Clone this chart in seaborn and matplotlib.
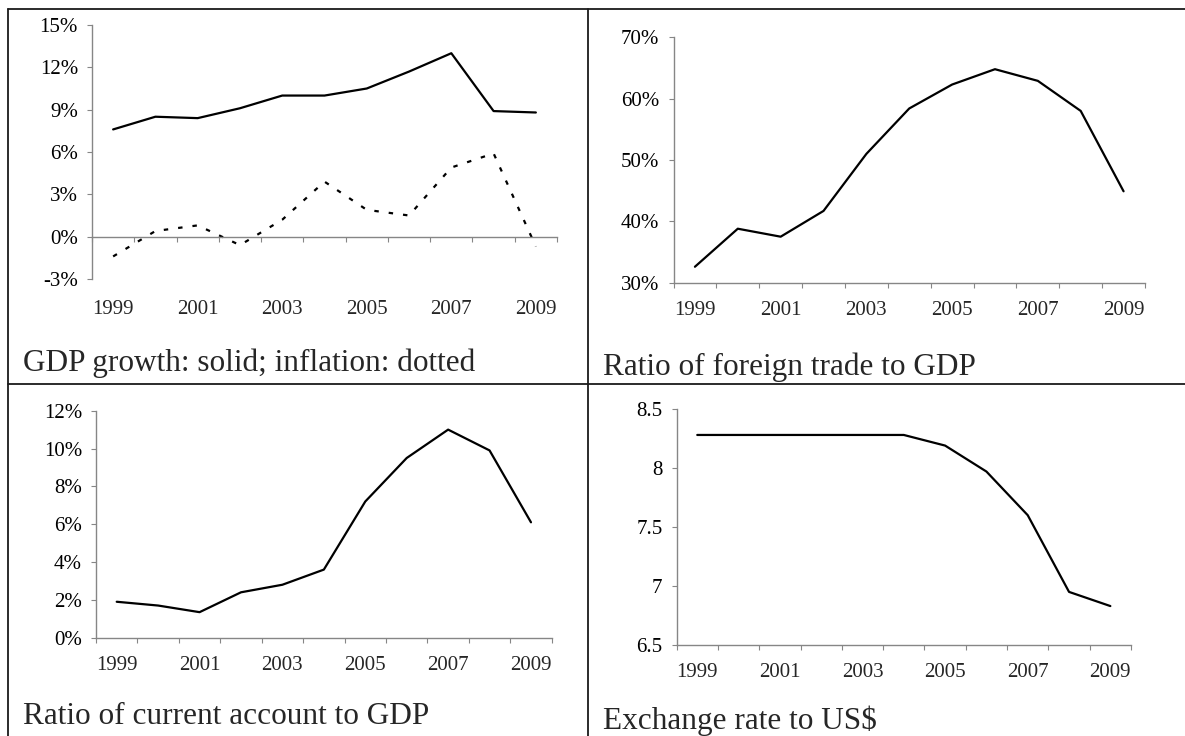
import matplotlib
matplotlib.use("Agg")
import matplotlib.pyplot as plt
from matplotlib.lines import Line2D
import seaborn as sns

# ---------------- data ----------------
years = [1999, 2000, 2001, 2002, 2003, 2004, 2005, 2006, 2007, 2008, 2009]
label_years = [1999, 2001, 2003, 2005, 2007, 2009]
gdp_growth = [7.6, 8.5, 8.4, 9.1, 10.0, 10.0, 10.5, 11.7, 13.0, 8.9, 8.8]
inflation = [-1.4, 0.4, 0.8, -0.6, 1.2, 3.9, 1.9, 1.5, 4.9, 5.9, -0.7]
trade_ratio = [32.6, 38.8, 37.5, 41.7, 51.0, 58.4, 62.3, 64.8, 62.9, 58.0, 44.9]
current_account = [1.9, 1.7, 1.35, 2.4, 2.8, 3.6, 7.2, 9.5, 11.0, 9.9, 6.1]
exchange_rate = [8.28, 8.28, 8.28, 8.28, 8.28, 8.28, 8.19, 7.97, 7.60, 6.95, 6.83]

captions = ["GDP growth: solid; inflation: dotted",
            "Ratio of foreign trade to GDP",
            "Ratio of current account to GDP",
            "Exchange rate to US$"]

# ---------------- style ----------------
sns.set_style("white")
plt.rcParams["font.family"] = ["Liberation Serif", "DejaVu Serif"]

W, H = 1185, 736
fig = plt.figure(figsize=(W / 100, H / 100), dpi=100)
fig.patch.set_facecolor("white")

AX_COLOR = "#868686"
TICK_FS = 15
CAP_FS = 22.5


def add_ax(left, right, top, bottom):
    return fig.add_axes([left / W, 1 - bottom / H, (right - left) / W, (bottom - top) / H])


def style_axis(ax, ylim, yticks, fmt, zero_axis=False):
    ax.set_facecolor("none")
    ax.set_xlim(years[0] - 0.5, years[-1] + 0.5)
    ax.set_ylim(*ylim)
    for s in ["top", "right"]:
        ax.spines[s].set_visible(False)
    for s in ["left", "bottom"]:
        ax.spines[s].set_color(AX_COLOR)
        ax.spines[s].set_linewidth(1.0)
    ax.set_yticks(yticks)
    ax.set_yticklabels([fmt(v) for v in yticks])
    ax.tick_params(axis="y", which="major", left=True, direction="out", length=3.6,
                   width=0.8, color=AX_COLOR, labelsize=TICK_FS, pad=6.5,
                   labelcolor="black")
    bounds = [y - 0.5 for y in years] + [years[-1] + 0.5]
    ax.set_xticks(bounds)
    ax.set_xticklabels([""] * len(bounds))
    ax.tick_params(axis="x", which="major", bottom=True, direction="out", length=3.6,
                   width=0.8, color=AX_COLOR)
    ax.set_xlabel("")
    ax.set_ylabel("")
    if zero_axis:
        ax.spines["bottom"].set_position(("data", 0))
        sec = ax.secondary_xaxis(0)
        sec.set_xticks(label_years)
        sec.set_xticklabels([str(y) for y in label_years])
        sec.tick_params(length=0, labelsize=TICK_FS, pad=15)
        sec.spines["bottom"].set_visible(False)
    else:
        ax.set_xticks(label_years, minor=True)
        ax.set_xticklabels([str(y) for y in label_years], minor=True)
        ax.tick_params(axis="x", which="minor", length=0, labelsize=TICK_FS, pad=13)


pct = lambda v: f"{v:g}%"
num = lambda v: f"{v:g}"

# Panel 1
ax1 = add_ax(92, 557, 25, 279)
sns.lineplot(x=years, y=gdp_growth, ax=ax1, color="black", linewidth=1.6)
sns.lineplot(x=years, y=inflation, ax=ax1, color="black", linewidth=1.6)
ax1.lines[-1].set_dashes([2, 4.5])
style_axis(ax1, (-3, 15), [-3, 0, 3, 6, 9, 12, 15], pct, zero_axis=True)

# Panel 2
ax2 = add_ax(673.5, 1145, 37.3, 282.7)
sns.lineplot(x=years, y=trade_ratio, ax=ax2, color="black", linewidth=1.6)
style_axis(ax2, (30, 70), [30, 40, 50, 60, 70], pct)

# Panel 3
ax3 = add_ax(96, 551.7, 410.7, 637.7)
sns.lineplot(x=years, y=current_account, ax=ax3, color="black", linewidth=1.6)
style_axis(ax3, (0, 12), [0, 2, 4, 6, 8, 10, 12], pct)

# Panel 4
ax4 = add_ax(676.6, 1131, 409, 645)
sns.lineplot(x=years, y=exchange_rate, ax=ax4, color="black", linewidth=1.6)
style_axis(ax4, (6.5, 8.5), [6.5, 7, 7.5, 8, 8.5], num)

# Captions
cap_pos = [(23, 371), (603, 375), (23, 724), (603, 729)]
for (cx, cy), txt in zip(cap_pos, captions):
    fig.text(cx / W, 1 - cy / H, txt, fontsize=CAP_FS, ha="left", va="baseline")

# Table borders
def fline(x0, y0, x1, y1):
    fig.add_artist(Line2D([x0 / W, x1 / W], [1 - y0 / H, 1 - y1 / H],
                          color="#1a1a1a", linewidth=1.3, transform=fig.transFigure))

fline(8, 9, W, 9)
fline(8, 9, 8, H)
fline(588, 9, 588, H)
fline(8, 384, W, 384)

fig.savefig("out.png", dpi=100, facecolor="white")
